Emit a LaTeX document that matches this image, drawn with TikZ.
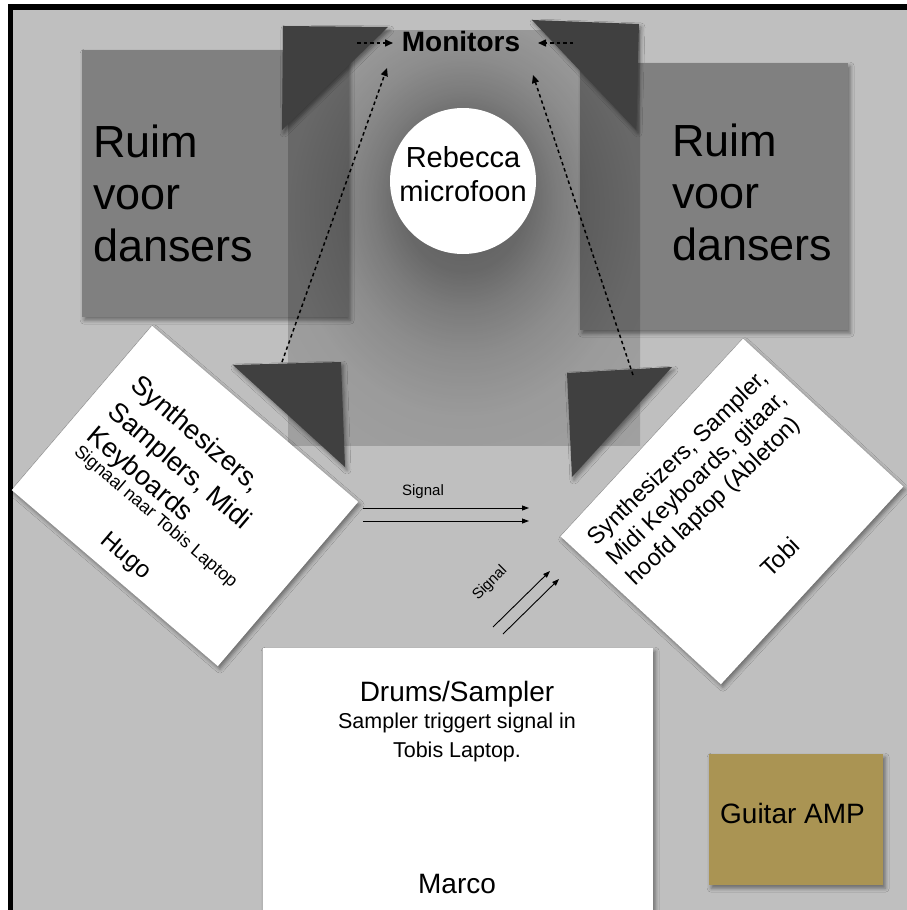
\documentclass[tikz,border=0pt]{standalone}
\usepackage{fontspec}
\setmainfont{Liberation Sans}
\usetikzlibrary{arrows.meta,shadows.blur}
\definecolor{bggray}{HTML}{BFBFBF}
\definecolor{dancer}{HTML}{808080}
\definecolor{tri}{HTML}{404040}
\definecolor{amp}{HTML}{AA9453}
\definecolor{shA}{HTML}{787878}
\definecolor{shB}{HTML}{8C8C8C}
\definecolor{shC}{HTML}{A5A5A5}
\definecolor{shD}{HTML}{BCBCBC}
\definecolor{shE}{HTML}{D0D0D0}
\definecolor{shF}{HTML}{DEDEDE}
\pgfdeclareradialshading{stageshade}{\pgfpoint{0bp}{6bp}}{color(0bp)=(shA); color(9bp)=(shB); color(13bp)=(shC); color(18bp)=(shD); color(25bp)=(shE); color(50bp)=(shF)}
\newcommand\fsz[2]{\fontsize{#1}{#2}\selectfont}
\begin{document}
\begin{tikzpicture}[x=1pt,y=-1pt,
  softshadow/.style={blur shadow={shadow xshift=2pt,shadow yshift=-3pt,shadow blur radius=4pt,shadow opacity=45}},
  dancerbox/.style={fill=dancer,softshadow,inner sep=0pt,anchor=north west},
  whitebox/.style={fill=white,softshadow,inner sep=0pt},
  wedge/.style={fill=tri,softshadow},
  dasharrow/.style={draw=black,line width=1.5pt,dash pattern=on 3.5pt off 3pt,-{Triangle[length=8pt,width=7pt]}},
  sigarrow/.style={draw=black,line width=0.9pt,-{Triangle[length=7pt,width=5pt]}},
  txt/.style={inner sep=0pt,text=black}]
\useasboundingbox (0,0) rectangle (907,910);
% frame
\fill[white] (0,0) rectangle (907,910);
\fill[black] (8,4) rectangle (930,930);
\fill[bggray] (13,10) rectangle (930,930);
% dancer areas
\node[dancerbox,minimum width=266pt,minimum height=267pt] (dl) at (82,50) {};
\node[dancerbox,minimum width=268pt,minimum height=267pt] (dr) at (580,63) {};
% central stage shading
\shade[shading=stageshade,blend mode=multiply] (288,30) rectangle (640,445);
\node[txt,anchor=west,align=left,font=\fsz{45}{52}] (dltext) at (93,193.5) {Ruim\\voor\\dansers};
\node[txt,anchor=west,align=left,font=\fsz{45}{52}] (drtext) at (672,192) {Ruim\\voor\\dansers};
% monitors (wedges)
\path[wedge] (283,26) -- (388,27) -- (282,130) -- cycle;
\path[wedge] (532,20) -- (639,24) -- (636,130) -- cycle;
\path[wedge] (233,365) -- (341,362) -- (345,467) -- cycle;
\path[wedge] (567,373) -- (672,367) -- (572,477) -- cycle;
% microphone
\node[circle,fill=white,minimum size=146pt,inner sep=0pt] (mic) at (463,181) {};
\node[txt,align=center,font=\fsz{29}{34}] (mictext) at (463,174) {Rebecca\\microfoon};
% Monitors label and arrows
\node[txt,font=\bfseries\fsz{28}{33}] (mon) at (461,41) {Monitors};
\coordinate (mlA) at (357,43);
\coordinate (mlB) at (393,43);
\coordinate (mrA) at (573,43);
\coordinate (mrB) at (538,43);
\draw[dasharrow] (mlA) -- (mlB);
\draw[dasharrow] (mrA) -- (mrB);
\coordinate (hugoMon) at (282,362);
\coordinate (hugoMonEnd) at (387,68);
\coordinate (tobiMon) at (633,375);
\coordinate (tobiMonEnd) at (533,75);
\draw[dasharrow] (hugoMon) -- (hugoMonEnd);
\draw[dasharrow] (tobiMon) -- (tobiMonEnd);
% Hugo
\node[whitebox,rotate=-40.5,minimum width=271pt,minimum height=216pt] (hugo) at (185,496) {};
\begin{scope}[shift={(185,496)},rotate=-40.5,transform shape]
\node[txt,anchor=base west,font=\fsz{27}{32}] (h1) at (-113,-46) {Synthesizers,};
\node[txt,anchor=base west,font=\fsz{27}{32}] (h2) at (-113,-11) {Samplers, Midi};
\node[txt,anchor=base west,font=\fsz{27}{32}] (h3) at (-113,21) {Keyboards};
\node[txt,anchor=base west,font=\fsz{18}{22}] (h4) at (-113,40) {Signaal naar Tobis Laptop};
\node[txt,font=\fsz{24}{28}] (h5) at (-6,85) {Hugo};
\end{scope}
% Tobi
\node[whitebox,rotate=47.3,minimum width=269pt,minimum height=218pt] (tobi) at (732,511.5) {};
\node[txt,rotate=44,align=left,font=\fsz{23.5}{28}] (t1) at (698,479) {Synthesizers, Sampler,\\Midi Keyboards, gitaar,\\hoofd laptop (Ableton)};
\node[txt,rotate=44,font=\fsz{24}{28}] (t2) at (780,557) {Tobi};
% Drums
\node[whitebox,anchor=north west,minimum width=390pt,minimum height=262pt] (drums) at (263,648) {};
\node[txt,anchor=base,font=\fsz{28}{32}] (d1) at (457,701) {Drums/Sampler};
\node[txt,anchor=base,font=\fsz{21.5}{26}] (d2) at (457,728) {Sampler triggert signal in};
\node[txt,anchor=base,font=\fsz{21.5}{26}] (d3) at (457,757) {Tobis Laptop.};
\node[txt,anchor=base,font=\fsz{28}{32}] (d4) at (457,893) {Marco};
% Guitar amp
\node[fill=amp,softshadow,anchor=north west,minimum width=174pt,minimum height=131pt,inner sep=0pt] (amp) at (709,754) {};
\node[txt,font=\fsz{28}{33}] (amptext) at (792.5,813) {Guitar AMP};
% Signal arrows
\coordinate (s1a) at (363,508);
\coordinate (s1b) at (529,508);
\coordinate (s2a) at (363,521);
\coordinate (s2b) at (529,521);
\draw[sigarrow] (s1a) -- (s1b);
\draw[sigarrow] (s2a) -- (s2b);
\node[txt,font=\fsz{15}{18}] (sig1) at (423,492) {Signal};
\coordinate (g1a) at (493,627);
\coordinate (g1b) at (550,571);
\coordinate (g2a) at (503,634);
\coordinate (g2b) at (559,579);
\draw[sigarrow] (g1a) -- (g1b);
\draw[sigarrow] (g2a) -- (g2b);
\node[txt,rotate=45,font=\fsz{15}{18}] (sig2) at (490,583) {Signal};
\end{tikzpicture}
\end{document}
